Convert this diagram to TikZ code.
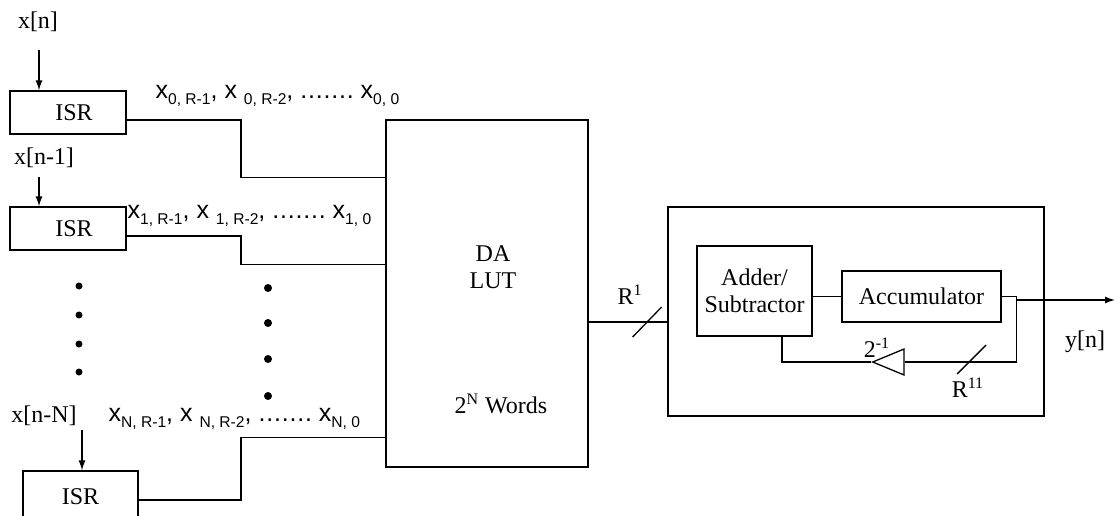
\documentclass[tikz,border=0pt]{standalone}
\usepackage{fontspec}
\setmainfont{Liberation Serif}
\newfontfamily\arialfont{Liberation Sans}
\usetikzlibrary{calc,shapes.geometric,arrows.meta}

\newcommand{\subx}[1]{\raisebox{-0.45ex}{\fontsize{7.8}{8}\selectfont #1}}
\newcommand{\dotrow}{.\kern.4pt.\kern.4pt.\kern.4pt.\kern.4pt.\kern.4pt.\kern.4pt.}
\newcommand{\bitlist}[1]{{\arialfont\fontsize{12.5}{14}\selectfont x\subx{#1, R-1}, x \subx{#1, R-2}, \dotrow\ x\subx{#1, 0}}}

\begin{document}
\begin{tikzpicture}[x=0.5pt,y=-0.5pt,line width=0.65pt,>={Latex[length=5pt,width=3.5pt]},
	font=\fontsize{12}{13.5}\selectfont,
	box/.style={draw, inner sep=0pt, align=center}]
	\useasboundingbox (0,0) rectangle (1120,515);

	%input registers
	\node[box, minimum width=58pt, minimum height=21.5pt] (isr0) at (68,112.5) {\hspace*{6pt}ISR};
	\node[box, minimum width=58pt, minimum height=21.5pt] (isr1) at (68,228.5) {\hspace*{6pt}ISR};
	\node[box, minimum width=57.5pt, minimum height=26pt] (isrN) at (80.5,497) {ISR};

	%input samples
	\node (xin0) at (38,22) {x[n]};
	\node (xin1) at (44,158) {x[n-1]};
	\node (xinN) at (44,416) {x[n-N]};
	\coordinate (a0) at (39,50);
	\coordinate (a1) at (39,177);
	\coordinate (aN) at (82,430);
	\draw[->] (a0) -- (a0 |- isr0.north);
	\draw[->] (a1) -- (a1 |- isr1.north);
	\draw[->] (aN) -- (aN |- isrN.north);

	%bit labels
	\node[anchor=west, inner sep=0pt] (bits0) at (155,96) {\bitlist{0}};
	\node[anchor=west, inner sep=0pt] (bits1) at (127,216) {\bitlist{1}};
	\node[anchor=west, inner sep=0pt] (bitsN) at (108,419) {\bitlist{N}};

	%dots
	\foreach \y in {286,315,344,372}
		\fill (79,\y) circle (1.75pt);
	\foreach \y in {288,323,359,396}
		\fill (268,\y) circle (2pt);

	%look-up table
	\node[box, minimum width=101pt, minimum height=173.5pt] (dalut) at (487,293.5) {};
	\node[align=center] (datext) at (493,267) {DA\\LUT};
	\node (words) at (501,404) {2\textsuperscript{N} Words};

	%bit lines
	\coordinate (col) at (241,0);
	\coordinate (in0) at ($(dalut.north west)+(0,58)$);
	\coordinate (in1) at ($(dalut.north west)+(0,145)$);
	\coordinate (inN) at ($(dalut.north west)+(0,318)$);
	\coordinate (b0) at ($(isr0.east)+(0,7.5)$);
	\coordinate (b1) at ($(isr1.east)+(0,7.5)$);
	\coordinate (bN) at ($(isrN.east)+(0,3)$);
	\draw (b0) -| (col |- in0) -- (in0);
	\draw (b1) -| (col |- in1) -- (in1);
	\draw (bN) -| (col |- inN) -- (inN);

	%accumulator unit
	\node[box, minimum width=188pt, minimum height=104.5pt] (mac) at (856,311.5) {};
	\node[box, minimum width=57.5pt, minimum height=45pt] (addsub) at (754.5,291) {Adder/\\Subtractor};
	\node[box, minimum width=79.5pt, minimum height=25.5pt] (acc) at (921.5,296.5) {Accumulator};
	\draw (addsub.east |- acc.west) -- (acc.west);

	%LUT output
	\coordinate (dout) at ($(dalut.east)+(0,28.5)$);
	\draw (dout) -- (dout -| mac.west);
	\draw ($(dout)+(44,15)$) -- ++(29,-30);		%bus mark
	\node (r1) at (630,295) {R\textsuperscript{1}};

	%output
	\coordinate (tap) at ($(acc.east)+(15,0)$);
	\coordinate (tapout) at ($(tap)+(0,3.5)$);
	\coordinate (yout) at (1115,300);
	\draw (acc.east) -- (tap);
	\draw[->] (tapout) -- (yout);
	\node (yn) at (1085,342) {y[n]};

	%feedback
	\node[draw, isosceles triangle, shape border rotate=180, minimum width=13pt, minimum height=13pt, inner sep=0pt, anchor=apex] (half) at (871,362) {};
	\draw (tap) |- (half.lower side);
	\draw (half.apex) -| ($(addsub.south)+(27.5,0)$);
	\node (hlabel) at (877,348) {2\textsuperscript{-1}};
	\draw ($(tap |- half.lower side)+(-59.5,12)$) -- ++(29,-29);	%bus mark
	\node (r11) at (968,388) {R\textsuperscript{11}};
\end{tikzpicture}
\end{document}
